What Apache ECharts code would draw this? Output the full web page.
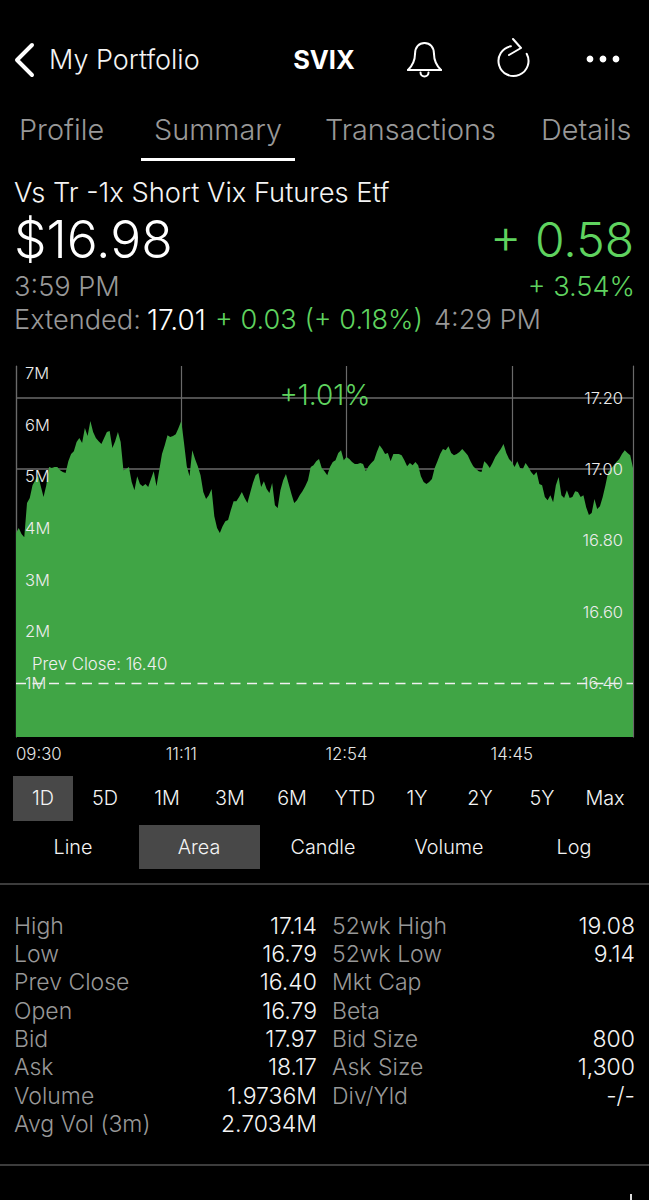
<!DOCTYPE html>
<html>
<head>
<meta charset="utf-8">
<style>html,body{margin:0;padding:0;background:#000}#c{width:649px;height:1200px}</style>
<script src="https://cdn.jsdelivr.net/npm/echarts@6/dist/echarts.min.js"></script>
</head>
<body>
<div id="c"></div>
<script>
const prices = [
16.821,16.835,16.818,16.809,16.905,16.919,16.955,16.969,16.983,16.952,
16.922,16.955,17.006,17.003,17.006,17.006,16.997,16.992,16.989,17.022,
17.042,17.050,17.076,17.087,17.073,17.115,17.093,17.135,17.104,17.087,
17.078,17.070,17.087,17.104,17.107,17.059,17.078,17.104,17.076,16.997,
17.000,17.006,16.964,16.941,16.980,16.958,16.952,16.958,16.950,16.972,
16.994,16.952,16.997,17.042,17.067,17.095,17.090,17.093,17.098,17.115,
17.135,17.073,17.008,16.980,17.053,17.028,17.008,16.983,16.936,16.916,
16.927,16.944,16.868,16.835,16.821,16.840,16.854,16.857,16.885,16.910,
16.910,16.922,16.936,16.919,16.905,16.933,16.961,16.983,16.989,16.950,
16.966,16.944,16.933,16.961,16.899,16.891,16.941,16.969,16.986,16.958,
16.930,16.905,16.913,16.927,16.938,16.952,16.969,17.006,17.011,17.022,
17.028,17.003,16.994,16.983,17.006,17.020,17.025,17.045,17.053,17.025,
17.034,17.028,17.020,17.014,17.014,17.017,17.014,16.994,17.008,17.017,
17.025,17.048,17.067,17.056,17.042,17.045,17.022,17.042,17.042,17.042,
17.039,17.025,17.008,17.017,17.011,17.020,17.011,16.980,16.964,16.958,
16.964,16.972,17.003,17.022,17.042,17.056,17.053,17.064,17.045,17.039,
17.042,17.048,17.056,17.048,17.039,17.022,17.008,17.000,16.994,16.992,
17.022,17.014,17.003,17.017,17.034,17.045,17.056,17.070,17.045,17.028,
17.020,17.006,17.022,17.003,17.000,17.017,17.006,16.992,16.983,16.992,
16.958,16.955,16.922,16.913,16.927,16.907,16.955,16.978,16.927,16.919,
16.941,16.919,16.922,16.938,16.936,16.922,16.927,16.893,16.871,16.877,
16.916,16.888,16.896,16.922,16.955,16.992,17.000,17.011,17.020,17.028,
17.042,17.053,17.045,17.039,17.003
];
const timeLabels = ['09:30','11:11','12:54','14:45'];
const priceTicks = [16.40,16.60,16.80,17.00,17.20];
const volumeTicks = [1,2,3,4,5,6,7];
const prevClose = 16.40;
const rangeTabs = ['1D','5D','1M','3M','6M','YTD','1Y','2Y','5Y','Max'];
const chartTypes = ['Line','Area','Candle','Volume','Log'];
const navTabs = ['Profile','Summary','Transactions','Details'];
const statLabelsLeft = ['High','Low','Prev Close','Open','Bid','Ask','Volume','Avg Vol (3m)'];
const statValuesLeft = ['17.14','16.79','16.40','16.79','17.97','18.17','1.9736M','2.7034M'];
const statLabelsRight = ['52wk High','52wk Low','Mkt Cap','Beta','Bid Size','Ask Size','Div/Yld'];
const statValuesRight = ['19.08','9.14','','','800','1,300','-/-'];

const TICK_STEP = 60;
const categories = prices.map((_, i) => i % TICK_STEP === 0 ? timeLabels[i / TICK_STEP] : String(i));
const FONT = 'Inter';
const GREEN = '#5fd35f', GREY = '#989898', WHITE = '#f4f4f4';

function txt(text, x, y, size, fill, align, weight) {
  return {type:'text', z:20, silent:true, style:{text, x, y, fill, fontSize:size, fontFamily:FONT,
    fontWeight:weight||300, align:align||'left', verticalAlign:'middle'}};
}
const stroke = w => ({fill:'none', stroke:'#fff', lineWidth:w, lineCap:'round', lineJoin:'round'});
function rect(x,y,w,h,fill){ return {type:'rect', z:1, silent:true, shape:{x,y,width:w,height:h}, style:{fill}}; }
function bez(x1,y1,cpx1,cpy1,cpx2,cpy2,x2,y2){ return {type:'bezierCurve', z:20, silent:true, shape:{x1,y1,cpx1,cpy1,cpx2,cpy2,x2,y2}, style:stroke(2)}; }

const g = [];
// header
g.push({type:'polyline', z:20, silent:true, shape:{points:[[32,45],[17,60],[32,75]]}, style:stroke(4)});
g.push(txt('My Portfolio',49,59.5,27,WHITE));
g.push(txt('SVIX',324,59.5,25.5,'#fff','center',700));
// bell icon
g.push(bez(408,70,413,65,415,60,415,54));
g.push(bez(415,54,415,47,419,43,424.5,43));
g.push(bez(424.5,43,430,43,434,47,434,54));
g.push(bez(434,54,434,60,436,65,441,70));
g.push({type:'line', z:20, silent:true, shape:{x1:408,y1:70,x2:441,y2:70}, style:stroke(2)});
g.push({type:'arc', z:20, silent:true, shape:{cx:424.5,cy:72.5,r:4,startAngle:0,endAngle:Math.PI,clockwise:true}, style:stroke(2)});
// refresh icon
g.push({type:'arc', z:20, silent:true, shape:{cx:513.5,cy:61,r:15,startAngle:-0.5,endAngle:4.54,clockwise:true}, style:stroke(2)});
g.push({type:'polyline', z:20, silent:true, shape:{points:[[513,39],[521,48],[509,55]]}, style:stroke(2)});
[590,603,616].forEach(cx => g.push({type:'circle',z:20,silent:true,shape:{cx,cy:59,r:3.4},style:{fill:'#fff'}}));
// nav tabs
[19,154,325,541].forEach((x,i)=>g.push(txt(navTabs[i],x,129.5,28.8,GREY)));
g.push(rect(141,158,154,3,'#fff'));
// quote
g.push(txt('Vs Tr -1x Short Vix Futures Etf',14,192.5,27.3,WHITE));
g.push(txt('$16.98',14,239,51.5,'#fff'));
g.push(txt('+ 0.58',634,239,48,GREEN,'right'));
g.push(txt('3:59 PM',14,286.5,27.2,GREY));
g.push(txt('+ 3.54%',635,286.5,27.2,GREEN,'right'));
g.push(txt('Extended:',14,319.5,27.2,GREY));
g.push(txt('17.01',147,319.5,28,'#fff'));
g.push(txt('+ 0.03 (+ 0.18%)',215,319.5,27.2,GREEN));
g.push(txt('4:29 PM',434,319.5,27.2,GREY));
// chart overlay text
g.push(txt('+1.01%',325,395,28,GREEN,'center'));
g.push(txt('Prev Close: 16.40',32,664,16.8,'#f0f0f0'));
// range selector
g.push(rect(13,776,60,45,'#484848'));
[43,105,167,230,292,355,417,480,542,605].forEach((x,i)=>g.push(txt(rangeTabs[i],x,798,19.8,WHITE,'center')));
g.push(rect(139,825,121,44,'#484848'));
[73,199,323,449,574].forEach((x,i)=>g.push(txt(chartTypes[i],x,847,19.8,WHITE,'center')));
// separators
g.push(rect(0,883,649,2,'#3c3c3c'));
g.push(rect(0,1164,649,2,'#3c3c3c'));
// stats
const rows = [925.5,953.5,981.5,1010.5,1038.5,1066.5,1095.5,1123.5];
statLabelsLeft.forEach((s,i)=>{g.push(txt(s,14,rows[i],23,GREY)); g.push(txt(statValuesLeft[i],317,rows[i],23,WHITE,'right'));});
statLabelsRight.forEach((s,i)=>{g.push(txt(s,332,rows[i],23,GREY)); if(statValuesRight[i]) g.push(txt(statValuesRight[i],635,rows[i],23,WHITE,'right'));});
g.push(rect(630,1194,2,6,'#ddd'));

const PMIN = 16.249, PMAX = 17.289;
const labelStyle = {color:'#ececec', fontFamily:FONT, fontSize:16.5, fontWeight:300};
const option = {
  backgroundColor:'#000',
  animation:false,
  textStyle:{fontFamily:FONT},
  grid:[
    {left:16, top:366, width:617, height:371},
    {left:16, top:373, width:617, height:361.7}
  ],
  xAxis:[
    {type:'category', data:categories, boundaryGap:false, gridIndex:0, z:0,
     axisLine:{show:false}, axisTick:{show:false},
     axisLabel:{interval:i=>i%TICK_STEP===0, formatter:v=>timeLabels.includes(v)?v:'', color:'#e6e6e6', fontFamily:FONT, fontSize:16.8, fontWeight:300, margin:8, alignMinLabel:'left', hideOverlap:false},
     splitLine:{show:true, interval:i=>i%TICK_STEP===0, lineStyle:{color:'#6a6a6a', width:1.2}}},
    {type:'category', data:categories, boundaryGap:false, gridIndex:1, show:false}
  ],
  yAxis:[
    {type:'value', gridIndex:0, min:PMIN, max:PMAX, position:'right', z:0, scale:true,
     axisLine:{show:true, lineStyle:{color:'#6a6a6a', width:1.2}}, axisTick:{show:false, customValues:priceTicks},
     axisLabel:{show:true, customValues:priceTicks, formatter:()=>''},
     splitLine:{show:true, lineStyle:{color:'#6a6a6a', width:1.5}}},
    {type:'value', gridIndex:0, min:PMIN, max:PMAX, position:'right', z:6, scale:true,
     axisLine:{show:false}, axisTick:{show:false}, splitLine:{show:false},
     axisLabel:{inside:true, customValues:priceTicks, formatter:v=>v.toFixed(2), margin:10, padding:[0,0,2,0], ...labelStyle}},
    {type:'value', gridIndex:1, min:0, max:7, interval:1, position:'left', z:6,
     axisLine:{show:false}, axisTick:{show:false}, splitLine:{show:false},
     axisLabel:{inside:true, customValues:volumeTicks, formatter:v=>v+'M', margin:9, ...labelStyle}},
    {type:'value', gridIndex:0, min:0, max:1, position:'left', z:0,
     axisLine:{show:true, lineStyle:{color:'#6a6a6a', width:1.2}}, axisTick:{show:false}, axisLabel:{show:false}, splitLine:{show:false}}
  ],
  series:[
    {type:'line', name:'SVIX', data:prices, xAxisIndex:0, yAxisIndex:0, showSymbol:false, silent:true, z:2,
     lineStyle:{width:0}, itemStyle:{color:'#40a545'}, areaStyle:{color:'#40a545', opacity:1},
     markLine:{silent:true, symbol:'none', z:5, label:{show:false},
       lineStyle:{color:'#f0f0f0', type:[10,6.5], width:1.4}, data:[{yAxis:prevClose}]}},
    {type:'line', name:'volume-axis', data:[], xAxisIndex:1, yAxisIndex:2}
  ],
  graphic:{elements:g}
};
const chart = echarts.init(document.getElementById('c'), null, {renderer:'svg', width:649, height:1200});
chart.setOption(option);
</script>
</body>
</html>
